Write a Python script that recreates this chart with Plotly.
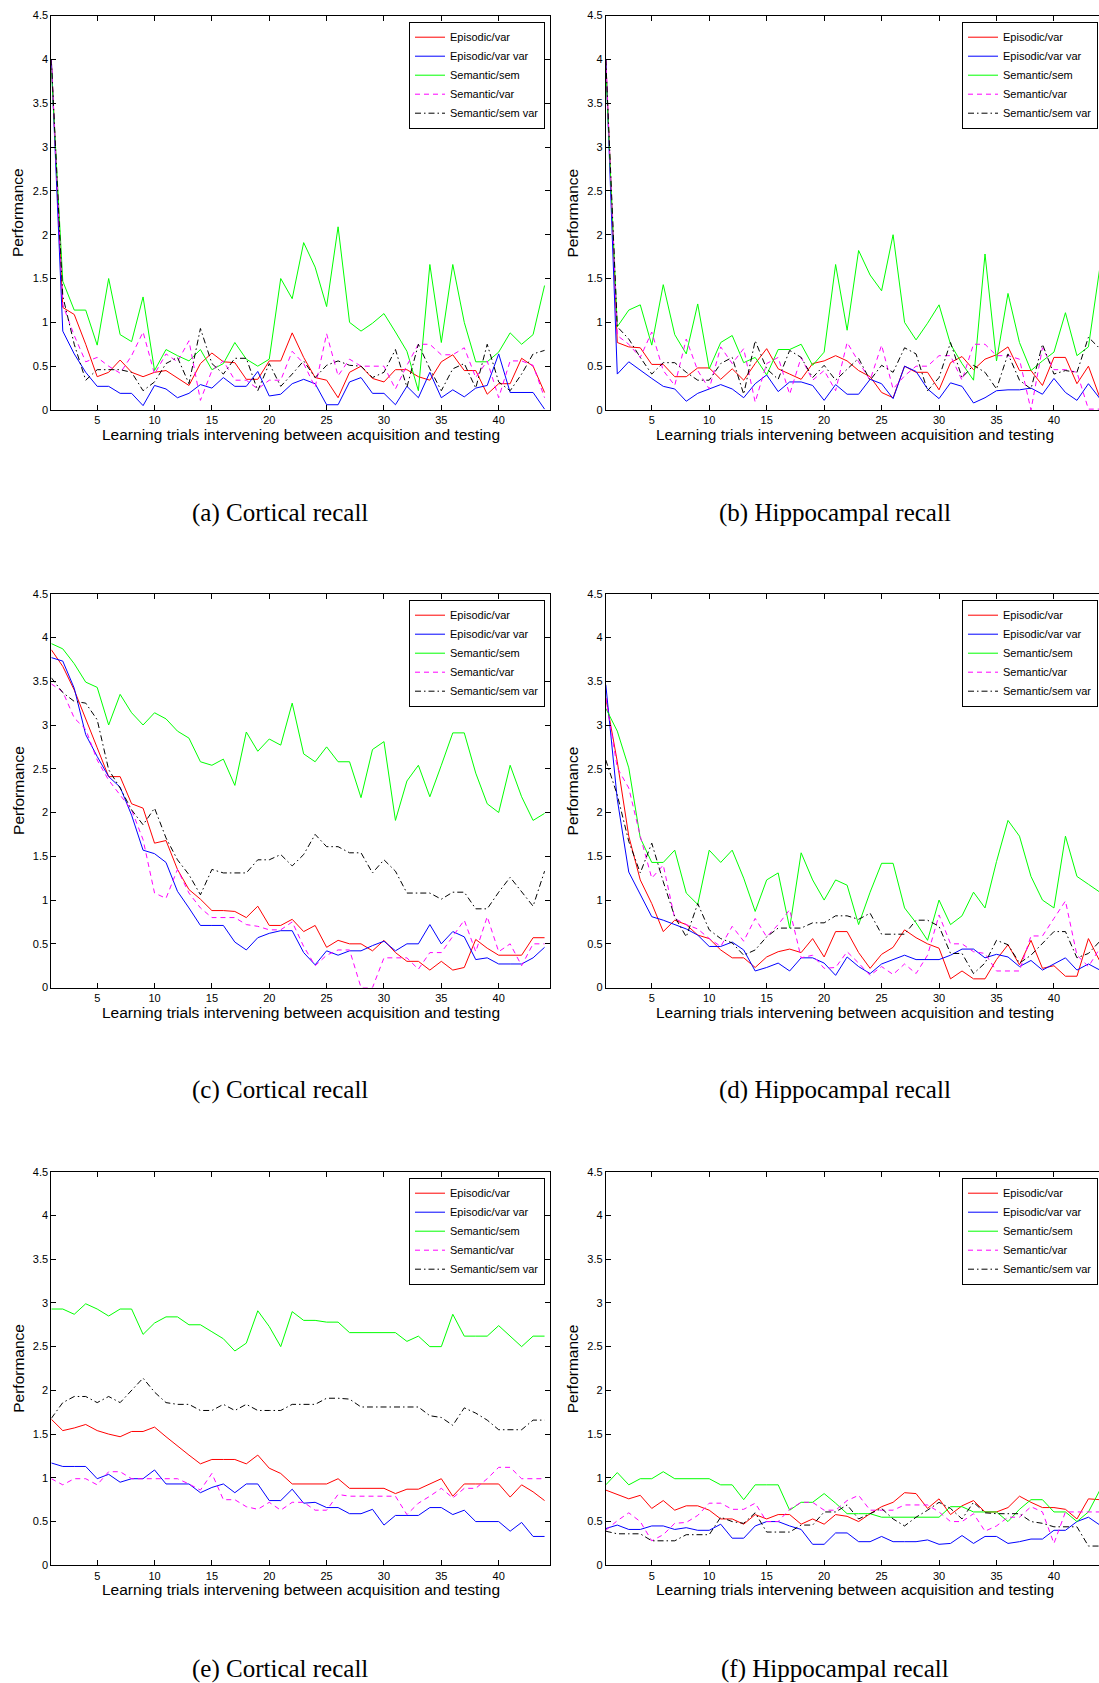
import plotly.graph_objects as go

# ---------------------------------------------------------------- data
trials = list(range(1, 45))

series_names = ["Episodic/var", "Episodic/var var", "Semantic/sem", "Semantic/var", "Semantic/sem var"]

x_tick_vals = [5, 10, 15, 20, 25, 30, 35, 40]
x_tick_text = ["5", "10", "15", "20", "25", "30", "35", "40"]
y_tick_vals = [0, 0.5, 1, 1.5, 2, 2.5, 3, 3.5, 4, 4.5]
y_tick_text = ["0", "0.5", "1", "1.5", "2", "2.5", "3", "3.5", "4", "4.5"]

captions = ["(a) Cortical recall", "(b) Hippocampal recall",
            "(c) Cortical recall", "(d) Hippocampal recall",
            "(e) Cortical recall", "(f) Hippocampal recall"]
x_title = "Learning trials intervening between acquisition and testing"
y_title = "Performance"

# (a) cortical recall
a_episodic_var = [4.0, 1.17, 1.09, 0.75, 0.38, 0.43, 0.57, 0.43, 0.38, 0.43, 0.45, 0.36, 0.28, 0.53, 0.65, 0.55, 0.54, 0.35, 0.35, 0.56, 0.56, 0.88, 0.60, 0.37, 0.34, 0.14, 0.43, 0.50, 0.36, 0.32, 0.46, 0.46, 0.38, 0.34, 0.55, 0.63, 0.45, 0.45, 0.18, 0.30, 0.30, 0.59, 0.50, 0.20]
a_episodic_var_var = [4.0, 0.90, 0.64, 0.43, 0.27, 0.27, 0.19, 0.19, 0.05, 0.28, 0.24, 0.14, 0.19, 0.29, 0.25, 0.37, 0.27, 0.27, 0.44, 0.16, 0.18, 0.30, 0.35, 0.30, 0.06, 0.06, 0.32, 0.37, 0.19, 0.19, 0.06, 0.27, 0.14, 0.43, 0.14, 0.23, 0.15, 0.25, 0.28, 0.64, 0.20, 0.20, 0.20, 0.01]
a_semantic_sem = [3.9, 1.47, 1.14, 1.14, 0.74, 1.50, 0.86, 0.78, 1.29, 0.45, 0.69, 0.62, 0.56, 0.69, 0.46, 0.53, 0.77, 0.58, 0.50, 0.58, 1.50, 1.27, 1.91, 1.63, 1.18, 2.09, 1.00, 0.90, 0.99, 1.10, 0.89, 0.67, 0.22, 1.66, 0.77, 1.66, 1.00, 0.55, 0.55, 0.66, 0.88, 0.75, 0.86, 1.42]
a_semantic_var = [4.0, 1.2, 0.85, 0.55, 0.60, 0.50, 0.42, 0.62, 0.89, 0.41, 0.64, 0.55, 0.79, 0.11, 0.45, 0.56, 0.34, 0.34, 0.24, 0.34, 0.34, 0.67, 0.53, 0.26, 0.87, 0.39, 0.58, 0.50, 0.50, 0.50, 0.24, 0.51, 0.75, 0.75, 0.63, 0.63, 0.71, 0.37, 0.56, 0.14, 0.56, 0.56, 0.51, 0.14]
a_semantic_sem_var = [4.0, 1.3, 0.75, 0.34, 0.46, 0.46, 0.46, 0.43, 0.22, 0.32, 0.53, 0.60, 0.30, 0.93, 0.53, 0.41, 0.59, 0.59, 0.22, 0.53, 0.27, 0.41, 0.56, 0.37, 0.51, 0.56, 0.51, 0.50, 0.37, 0.43, 0.69, 0.26, 0.75, 0.47, 0.22, 0.47, 0.53, 0.25, 0.75, 0.32, 0.22, 0.41, 0.64, 0.68]

# (b) hippocampal recall
b_episodic_var = [4.0, 0.77, 0.72, 0.71, 0.52, 0.52, 0.38, 0.38, 0.48, 0.48, 0.35, 0.47, 0.34, 0.53, 0.70, 0.47, 0.41, 0.35, 0.53, 0.56, 0.62, 0.56, 0.45, 0.38, 0.20, 0.14, 0.50, 0.43, 0.43, 0.23, 0.54, 0.61, 0.46, 0.58, 0.63, 0.72, 0.45, 0.45, 0.28, 0.60, 0.60, 0.30, 0.50, 0.14]
b_episodic_var_var = [4.0, 0.41, 0.55, 0.45, 0.36, 0.27, 0.24, 0.10, 0.19, 0.24, 0.29, 0.24, 0.14, 0.30, 0.40, 0.21, 0.32, 0.32, 0.28, 0.11, 0.29, 0.18, 0.18, 0.35, 0.30, 0.13, 0.50, 0.44, 0.24, 0.13, 0.31, 0.27, 0.08, 0.14, 0.22, 0.23, 0.23, 0.25, 0.18, 0.36, 0.20, 0.11, 0.30, 0.13]
b_semantic_sem = [3.9, 0.95, 1.14, 1.20, 0.74, 1.43, 0.86, 0.64, 1.21, 0.47, 0.77, 0.85, 0.54, 0.60, 0.40, 0.69, 0.69, 0.75, 0.51, 0.66, 1.66, 0.91, 1.82, 1.54, 1.36, 2.00, 1.00, 0.80, 0.99, 1.20, 0.75, 0.53, 0.34, 1.78, 0.56, 1.33, 0.77, 0.45, 0.56, 0.66, 1.11, 0.62, 0.72, 1.63]
b_semantic_var = [4.0, 0.85, 0.75, 0.60, 0.89, 0.45, 0.28, 0.81, 0.45, 0.24, 0.72, 0.53, 0.70, 0.09, 0.53, 0.60, 0.18, 0.60, 0.34, 0.45, 0.22, 0.77, 0.55, 0.34, 0.74, 0.24, 0.39, 0.50, 0.50, 0.62, 0.62, 0.34, 0.75, 0.75, 0.62, 0.62, 0.58, 0.00, 0.71, 0.46, 0.46, 0.43, 0.01, 0.01]
b_semantic_sem_var = [4.0, 0.95, 0.81, 0.60, 0.41, 0.54, 0.54, 0.43, 0.34, 0.34, 0.53, 0.60, 0.18, 0.79, 0.47, 0.35, 0.68, 0.60, 0.37, 0.51, 0.34, 0.47, 0.59, 0.34, 0.51, 0.43, 0.71, 0.64, 0.22, 0.37, 0.77, 0.37, 0.51, 0.43, 0.24, 0.64, 0.34, 0.24, 0.75, 0.41, 0.45, 0.43, 0.83, 0.70]

# (c) cortical recall
c_episodic_var = [3.86, 3.67, 3.40, 3.08, 2.74, 2.41, 2.41, 2.10, 2.05, 1.65, 1.68, 1.35, 1.12, 1.01, 0.88, 0.88, 0.87, 0.80, 0.93, 0.71, 0.71, 0.78, 0.64, 0.71, 0.46, 0.54, 0.50, 0.50, 0.42, 0.54, 0.40, 0.30, 0.30, 0.20, 0.30, 0.20, 0.23, 0.55, 0.45, 0.37, 0.37, 0.37, 0.57, 0.57]
c_episodic_var_var = [3.77, 3.73, 3.42, 2.89, 2.64, 2.41, 2.29, 1.97, 1.57, 1.53, 1.43, 1.10, 0.91, 0.71, 0.71, 0.71, 0.52, 0.43, 0.57, 0.62, 0.65, 0.65, 0.40, 0.26, 0.42, 0.37, 0.42, 0.42, 0.48, 0.53, 0.42, 0.50, 0.50, 0.72, 0.50, 0.64, 0.58, 0.32, 0.34, 0.27, 0.27, 0.27, 0.34, 0.46]
c_semantic_sem = [3.93, 3.87, 3.70, 3.49, 3.43, 3.00, 3.35, 3.14, 3.00, 3.14, 3.07, 2.93, 2.85, 2.58, 2.54, 2.61, 2.31, 2.92, 2.70, 2.84, 2.77, 3.25, 2.67, 2.58, 2.75, 2.58, 2.58, 2.17, 2.72, 2.81, 1.91, 2.36, 2.54, 2.18, 2.54, 2.91, 2.91, 2.45, 2.10, 2.00, 2.54, 2.18, 1.91, 1.99]
c_semantic_var = [3.47, 3.38, 3.08, 2.95, 2.60, 2.37, 2.20, 2.03, 1.69, 1.08, 1.02, 1.35, 1.08, 0.91, 0.80, 0.80, 0.80, 0.72, 0.70, 0.66, 0.66, 0.75, 0.47, 0.25, 0.37, 0.43, 0.43, 0.00, 0.00, 0.34, 0.34, 0.34, 0.21, 0.40, 0.40, 0.58, 0.77, 0.41, 0.81, 0.41, 0.50, 0.25, 0.50, 0.50]
c_semantic_sem_var = [3.54, 3.37, 3.27, 3.25, 3.06, 2.49, 2.28, 2.03, 1.86, 2.05, 1.71, 1.46, 1.29, 1.06, 1.35, 1.31, 1.31, 1.31, 1.46, 1.46, 1.52, 1.39, 1.52, 1.75, 1.61, 1.61, 1.54, 1.54, 1.31, 1.46, 1.33, 1.08, 1.08, 1.08, 1.01, 1.09, 1.09, 0.90, 0.90, 1.09, 1.26, 1.10, 0.93, 1.33]

# (d) hippocampal recall
d_episodic_var = [3.31, 2.58, 1.73, 1.23, 0.96, 0.64, 0.77, 0.72, 0.60, 0.56, 0.43, 0.34, 0.34, 0.23, 0.35, 0.41, 0.44, 0.40, 0.56, 0.35, 0.64, 0.64, 0.40, 0.22, 0.38, 0.46, 0.66, 0.57, 0.50, 0.45, 0.10, 0.19, 0.10, 0.10, 0.32, 0.49, 0.26, 0.54, 0.22, 0.25, 0.13, 0.13, 0.56, 0.30]
d_episodic_var_var = [3.46, 2.15, 1.32, 1.06, 0.81, 0.77, 0.72, 0.67, 0.60, 0.47, 0.47, 0.52, 0.43, 0.19, 0.23, 0.28, 0.19, 0.34, 0.34, 0.28, 0.14, 0.35, 0.24, 0.16, 0.27, 0.32, 0.37, 0.32, 0.32, 0.32, 0.37, 0.44, 0.44, 0.34, 0.38, 0.35, 0.24, 0.31, 0.20, 0.27, 0.34, 0.20, 0.27, 0.20]
d_semantic_sem = [3.19, 2.93, 2.51, 1.71, 1.43, 1.43, 1.57, 1.08, 0.95, 1.57, 1.43, 1.57, 1.25, 0.87, 1.23, 1.31, 0.68, 1.54, 1.23, 1.00, 1.23, 1.17, 0.72, 1.09, 1.42, 1.42, 0.91, 0.74, 0.54, 1.00, 0.72, 0.82, 1.09, 0.91, 1.44, 1.91, 1.73, 1.27, 1.00, 0.91, 1.73, 1.27, 1.18, 1.09]
d_semantic_var = [3.31, 2.51, 2.28, 1.73, 1.25, 1.40, 0.79, 0.72, 0.67, 0.56, 0.47, 0.70, 0.53, 0.79, 0.58, 0.72, 0.89, 0.34, 0.37, 0.22, 0.23, 0.41, 0.28, 0.14, 0.24, 0.15, 0.27, 0.16, 0.37, 0.83, 0.50, 0.50, 0.41, 0.39, 0.19, 0.19, 0.19, 0.59, 0.59, 0.79, 0.99, 0.37, 0.24, 0.45]
d_semantic_sem_var = [2.60, 2.20, 1.67, 1.31, 1.65, 1.21, 0.81, 0.58, 0.96, 0.66, 0.56, 0.51, 0.37, 0.43, 0.58, 0.68, 0.68, 0.68, 0.74, 0.74, 0.82, 0.82, 0.78, 0.85, 0.61, 0.61, 0.61, 0.77, 0.77, 0.70, 0.39, 0.39, 0.16, 0.28, 0.54, 0.49, 0.28, 0.37, 0.51, 0.64, 0.64, 0.34, 0.39, 0.53]

# (e) cortical recall
e_episodic_var = [1.67, 1.54, 1.57, 1.61, 1.54, 1.50, 1.47, 1.53, 1.53, 1.58, 1.47, 1.36, 1.26, 1.16, 1.21, 1.21, 1.21, 1.16, 1.26, 1.11, 1.05, 0.93, 0.93, 0.93, 0.93, 0.99, 0.88, 0.88, 0.88, 0.88, 0.82, 0.87, 0.87, 0.93, 0.99, 0.79, 0.93, 0.93, 0.93, 0.93, 0.78, 0.92, 0.84, 0.74]
e_episodic_var_var = [1.17, 1.13, 1.13, 1.13, 0.99, 1.04, 0.95, 0.99, 0.99, 1.09, 0.93, 0.93, 0.93, 0.83, 0.89, 0.93, 0.83, 0.93, 0.93, 0.74, 0.74, 0.87, 0.71, 0.72, 0.66, 0.66, 0.59, 0.59, 0.64, 0.46, 0.57, 0.57, 0.57, 0.66, 0.66, 0.58, 0.63, 0.50, 0.50, 0.50, 0.39, 0.49, 0.33, 0.33]
e_semantic_sem = [2.93, 2.93, 2.87, 2.99, 2.93, 2.85, 2.93, 2.93, 2.64, 2.77, 2.84, 2.84, 2.75, 2.75, 2.67, 2.59, 2.45, 2.54, 2.91, 2.73, 2.50, 2.90, 2.80, 2.80, 2.78, 2.78, 2.66, 2.66, 2.66, 2.66, 2.66, 2.56, 2.62, 2.50, 2.50, 2.87, 2.62, 2.62, 2.62, 2.74, 2.62, 2.50, 2.62, 2.62]
e_semantic_var = [0.99, 0.92, 0.99, 0.99, 0.92, 1.07, 1.07, 0.99, 0.99, 0.99, 0.99, 0.99, 0.93, 0.86, 1.05, 0.75, 0.75, 0.67, 0.64, 0.72, 0.63, 0.72, 0.72, 0.63, 0.63, 0.81, 0.79, 0.79, 0.79, 0.79, 0.79, 0.58, 0.71, 0.79, 0.88, 0.77, 0.88, 0.88, 0.99, 1.12, 1.12, 0.99, 0.99, 0.99]
e_semantic_sem_var = [1.68, 1.86, 1.93, 1.93, 1.86, 1.93, 1.86, 2.00, 2.14, 1.98, 1.86, 1.84, 1.84, 1.77, 1.77, 1.84, 1.77, 1.84, 1.77, 1.77, 1.77, 1.84, 1.84, 1.84, 1.91, 1.91, 1.90, 1.81, 1.81, 1.81, 1.81, 1.81, 1.81, 1.71, 1.69, 1.60, 1.80, 1.74, 1.66, 1.55, 1.55, 1.55, 1.66, 1.66]

# (f) hippocampal recall
f_episodic_var = [0.86, 0.81, 0.76, 0.80, 0.65, 0.74, 0.63, 0.68, 0.68, 0.63, 0.53, 0.53, 0.47, 0.58, 0.53, 0.58, 0.58, 0.47, 0.53, 0.47, 0.58, 0.56, 0.50, 0.59, 0.67, 0.72, 0.83, 0.82, 0.65, 0.76, 0.58, 0.68, 0.74, 0.61, 0.61, 0.66, 0.79, 0.72, 0.66, 0.66, 0.64, 0.53, 0.76, 0.75]
f_episodic_var_var = [0.42, 0.46, 0.41, 0.41, 0.45, 0.45, 0.41, 0.43, 0.40, 0.40, 0.47, 0.31, 0.31, 0.45, 0.50, 0.50, 0.45, 0.41, 0.24, 0.24, 0.37, 0.37, 0.27, 0.27, 0.33, 0.27, 0.27, 0.27, 0.29, 0.24, 0.25, 0.34, 0.25, 0.33, 0.33, 0.25, 0.27, 0.30, 0.30, 0.40, 0.40, 0.50, 0.55, 0.46]
f_semantic_sem = [0.92, 1.06, 0.92, 0.99, 0.99, 1.07, 0.99, 0.99, 0.99, 0.99, 0.92, 0.92, 0.75, 0.92, 0.92, 0.92, 0.63, 0.72, 0.72, 0.82, 0.71, 0.59, 0.59, 0.59, 0.55, 0.55, 0.55, 0.55, 0.55, 0.55, 0.67, 0.67, 0.61, 0.61, 0.61, 0.50, 0.64, 0.75, 0.75, 0.61, 0.61, 0.50, 0.61, 0.86]
f_semantic_var = [0.40, 0.51, 0.60, 0.50, 0.28, 0.35, 0.48, 0.49, 0.57, 0.71, 0.71, 0.64, 0.64, 0.71, 0.50, 0.50, 0.64, 0.72, 0.72, 0.63, 0.63, 0.74, 0.80, 0.63, 0.63, 0.63, 0.69, 0.69, 0.69, 0.61, 0.50, 0.50, 0.59, 0.39, 0.45, 0.55, 0.55, 0.67, 0.61, 0.25, 0.61, 0.61, 0.61, 0.61]
f_semantic_sem_var = [0.39, 0.36, 0.36, 0.36, 0.28, 0.28, 0.28, 0.35, 0.35, 0.35, 0.55, 0.50, 0.48, 0.60, 0.38, 0.38, 0.38, 0.46, 0.46, 0.61, 0.61, 0.69, 0.53, 0.59, 0.65, 0.53, 0.45, 0.55, 0.63, 0.72, 0.65, 0.53, 0.72, 0.60, 0.59, 0.59, 0.59, 0.50, 0.48, 0.44, 0.44, 0.44, 0.22, 0.22]

panels = [
    [a_episodic_var, a_episodic_var_var, a_semantic_sem, a_semantic_var, a_semantic_sem_var],
    [b_episodic_var, b_episodic_var_var, b_semantic_sem, b_semantic_var, b_semantic_sem_var],
    [c_episodic_var, c_episodic_var_var, c_semantic_sem, c_semantic_var, c_semantic_sem_var],
    [d_episodic_var, d_episodic_var_var, d_semantic_sem, d_semantic_var, d_semantic_sem_var],
    [e_episodic_var, e_episodic_var_var, e_semantic_sem, e_semantic_var, e_semantic_sem_var],
    [f_episodic_var, f_episodic_var_var, f_semantic_sem, f_semantic_var, f_semantic_sem_var],
]

# ---------------------------------------------------------------- styling
W, H = 1099, 1683
LINE_COLORS = ["#ff0000", "#0000ff", "#00ff00", "#ff00ff", "#000000"]
LINE_DASHES = ["solid", "solid", "solid", "5px,4px", "6px,3px,1.5px,3px"]
SANS = "Liberation Sans, Arial, Helvetica, sans-serif"
SERIF = "Liberation Serif, Times New Roman, serif"

# plot-area boxes in page pixels: (left, right, x-range end); the right
# column runs off the page edge, so its range stops short of trial 44
COL_BOXES = [(51.3, 550.3, 44.5), (605.8, 1099.0, 43.92)]
ROW_BOXES = [(15.6, 410.0), (593.7, 987.6), (1171.7, 1565.3)]
LEGEND_TOPS = [21.7, 599.7, 1177.7]
CAPTION_Y = [513, 1090, 1669]
CAPTION_X = [280, 835]
PX_PER_TRIAL = 11.47


def px_x(v):
    return v / W


def px_y(v):
    return 1 - v / H


fig = go.Figure()
layout = dict(
    width=W, height=H,
    margin=dict(l=0, r=0, t=0, b=0, autoexpand=False),
    paper_bgcolor="white", plot_bgcolor="white",
    showlegend=True,
    font=dict(family=SANS, size=11, color="black"),
)
annotations = []

for idx, series in enumerate(panels):
    row, col = divmod(idx, 2)
    left, right, xmax = COL_BOXES[col]
    top, bottom = ROW_BOXES[row]
    sfx = "" if idx == 0 else str(idx + 1)
    legend_key = "legend" + sfx

    for name, values, color, dash in zip(series_names, series, LINE_COLORS, LINE_DASHES):
        fig.add_trace(go.Scatter(
            x=trials, y=values, name=name, mode="lines",
            line=dict(color=color, width=1, dash=dash),
            xaxis="x" + sfx, yaxis="y" + sfx,
            legend=legend_key, hoverinfo="skip",
        ))

    layout["xaxis" + sfx] = dict(
        domain=[px_x(left), px_x(right)], range=[1, xmax], anchor="y" + sfx,
        tickmode="array", tickvals=x_tick_vals, ticktext=x_tick_text,
        ticks="inside", ticklen=5, tickwidth=1, tickcolor="black",
        showline=True, linecolor="black", linewidth=1, mirror="ticks",
        showgrid=False, zeroline=False,
        tickfont=dict(family=SANS, size=11, color="black"),
    )
    layout["yaxis" + sfx] = dict(
        domain=[px_y(bottom), px_y(top)], range=[0, 4.5], anchor="x" + sfx,
        tickmode="array", tickvals=y_tick_vals, ticktext=y_tick_text,
        ticks="inside", ticklen=5, tickwidth=1, tickcolor="black",
        showline=True, linecolor="black", linewidth=1,
        mirror="ticks" if col == 0 else False,
        showgrid=False, zeroline=False,
        tickfont=dict(family=SANS, size=11, color="black"),
    )

    leg_top = LEGEND_TOPS[row]
    if col == 0:
        leg_pos = dict(x=px_x(545), xanchor="right")
    else:
        # keep the whole legend on the page at the right edge
        leg_pos = dict(x=px_x(1098), xanchor="right")
    layout[legend_key] = dict(
        y=px_y(leg_top), yanchor="top", **leg_pos,
        bgcolor="white", bordercolor="black", borderwidth=1,
        font=dict(family=SANS, size=11, color="black"),
        itemwidth=30, tracegroupgap=0,
    )

    # axis title is centred on the full 1..44.5 span of each axes box
    center_x = left + 43.5 * PX_PER_TRIAL / 2
    annotations.append(dict(
        text=x_title, xref="paper", yref="paper",
        x=px_x(center_x), y=px_y(bottom + 24.6), xanchor="center", yanchor="middle",
        showarrow=False, font=dict(family=SANS, size=15.5, color="black"),
    ))
    annotations.append(dict(
        text=y_title, xref="paper", yref="paper", textangle=-90,
        x=px_x(left - 33), y=px_y((top + bottom) / 2), xanchor="center", yanchor="middle",
        showarrow=False, font=dict(family=SANS, size=15.5, color="black"),
    ))
    annotations.append(dict(
        text=captions[idx], xref="paper", yref="paper",
        x=px_x(CAPTION_X[col]), y=px_y(CAPTION_Y[row]), xanchor="center", yanchor="middle",
        showarrow=False, font=dict(family=SERIF, size=25, color="black"),
    ))

layout["annotations"] = annotations
fig.update_layout(**layout)
fig.write_html("out.html")
